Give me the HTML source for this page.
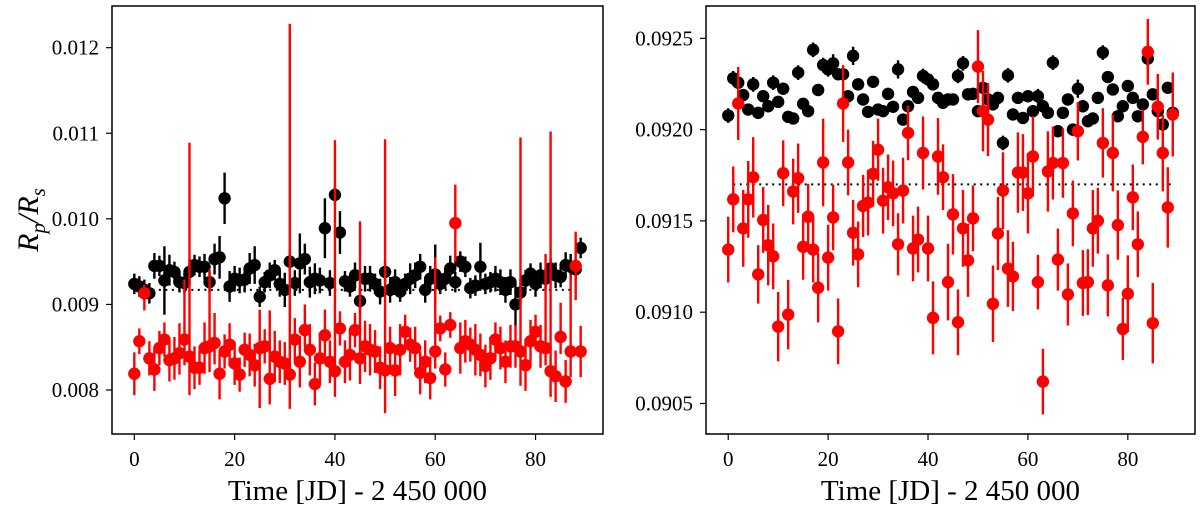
<!DOCTYPE html>
<html><head><meta charset="utf-8"><style>
html,body{margin:0;padding:0;background:#fff;}
svg{display:block;font-family:"Liberation Serif","DejaVu Serif",serif;}
</style></head><body>
<svg id="chart" width="1200" height="513" viewBox="0 0 1200 513"></svg>
<script>
const days = Array.from({length:90},(_,i)=>i);
const leftBlack = [.00924,.00921,.00917,.00913,.00945,.00945,.00928,.00940,.00938,.00926,.00925,.00938,.00946,.00944,.00944,.00926,.00953,.00955,.01024,.00921,.00930,.00928,.00929,.00942,.00946,.00909,.00926,.00934,.00940,.00924,.00917,.00950,.00925,.00948,.00953,.00926,.00930,.00928,.00989,.00925,.01028,.00984,.00927,.00921,.00934,.00904,.00930,.00930,.00924,.00915,.00938,.00917,.00926,.00915,.00924,.00930,.00934,.00944,.00917,.00930,.00935,.00924,.00930,.00942,.00926,.00950,.00944,.00919,.00922,.00944,.00924,.00926,.00930,.00926,.00917,.00926,.00900,.00914,.00928,.00936,.00924,.00934,.00930,.00942,.00934,.00932,.00946,.00944,.00941,.00966];
const leftBlackErr = [.00012,.00012,.00012,.00012,.00015,.00012,.0004,.00018,.00012,.00012,.00012,.00015,.00012,.00012,.00015,.00012,.00018,.00025,.0003,.00018,.00015,.00015,.00015,.00018,.00022,.00012,.00012,.00015,.00012,.00015,.0002,.00012,.00015,.00035,.00018,.00018,.00018,.00015,.00035,.00015,.0001,.00025,.00012,.00012,.00015,.00015,.00015,.00015,.00012,.00015,.00012,.00015,.00015,.00012,.00012,.00018,.00015,.00015,.00015,.00015,.00035,.00012,.00012,.00015,.00012,.00012,.00012,.00012,.00012,.00028,.00012,.00012,.00015,.00015,.00015,.00015,.00025,.00012,.00012,.00012,.00015,.00015,.00012,.00012,.00015,.00012,.00015,.00015,.00012,.00012];
const leftRed = [.00819,.00857,.00913,.00837,.00824,.00849,.00859,.00835,.00837,.00843,.00859,.00839,.00826,.00826,.00849,.00851,.00855,.00819,.00845,.00853,.00831,.00818,.00847,.00841,.00829,.00849,.00851,.00813,.00839,.00833,.00831,.00818,.00859,.00833,.00870,.00847,.00807,.00837,.00864,.00833,.00822,.00872,.00833,.00841,.00870,.00837,.00851,.00847,.00845,.00826,.00823,.00849,.00823,.00847,.00868,.00853,.00849,.00820,.00833,.00814,.00845,.00872,.00824,.00876,.00995,.00849,.00857,.00853,.00847,.00841,.00828,.00837,.00859,.00849,.00833,.00851,.00851,.00845,.00829,.00857,.00868,.00851,.00849,.00822,.00816,.00862,.00810,.00845,.00945,.00845];
const leftRedErrHi = [.00025,.00015,.0001,.0002,.00025,.0002,.0002,.00025,.00025,.00035,.0007,.0025,.00025,.0002,.0003,.0009,.00035,.00025,.0002,.00025,.00025,.0002,.0002,.00025,.00025,.00045,.0002,.0008,.0003,.00025,.00025,.0041,.00025,.0003,.0003,.0003,.00025,.0003,.0003,.00025,.0027,.0002,.00025,.0003,.0002,.0016,.0003,.0003,.00025,.00025,.0027,.00025,.0003,.0003,.0002,.0002,.00025,.00025,.00025,.00025,.0011,.00015,.0002,.00015,.00045,.0003,.00025,.0002,.0003,.00025,.00025,.00025,.0002,.00025,.00025,.00025,.00025,.0025,.0003,.00025,.0002,.00025,.0011,.0028,.0003,.0004,.00025,.0009,.0004,.0003];
const leftRedErrLo = [.00025,.00015,.0002,.0002,.00025,.0002,.0002,.00025,.00025,.00025,.0003,.00045,.00025,.0002,.0003,.0003,.00025,.0003,.0002,.00025,.00025,.0002,.0002,.00025,.00025,.0007,.0002,.0003,.0003,.00025,.00025,.0004,.00025,.0003,.0002,.0003,.00025,.0003,.0003,.00025,.0003,.0002,.00025,.0003,.0002,.0003,.0003,.0003,.00025,.00025,.0005,.00025,.0003,.0003,.0002,.0002,.00025,.00025,.00025,.00025,.0002,.00015,.0002,.00015,.00045,.0003,.00025,.0002,.0003,.00025,.00025,.00025,.0002,.00025,.00025,.00025,.00025,.0004,.0003,.00025,.0002,.00025,.0002,.0003,.0003,.0002,.00025,.0003,.0004,.0003];
const leftRef = 0.00917;

const rightBlack = [.092077,.092281,.092257,.092189,.09211,.092248,.092092,.092183,.092128,.092257,.092152,.092224,.09207,.092061,.092312,.092141,.092101,.092437,.092217,.092354,.09233,.092363,.092303,.092303,.092183,.092404,.092248,.092165,.092097,.092262,.09211,.092101,.092196,.092125,.09233,.092055,.092128,.092206,.092174,.092294,.092275,.092248,.092174,.092147,.092165,.092165,.092294,.092363,.092193,.092196,.092101,.092229,.092165,.092138,.092174,.091927,.092297,.092083,.092174,.092064,.092183,.092101,.092183,.092128,.092092,.092367,.091991,.092092,.092165,.0920,.092224,.092128,.092046,.092061,.092174,.092422,.092288,.09222,.092073,.092128,.092239,.092174,.092073,.092138,.092389,.092193,.092101,.092028,.092229,.092092];
const rightBlackErr = [.00004,.00004,.00003,.00003,.00003,.00004,.00003,.00003,.00003,.00004,.00003,.00003,.00003,.00003,.00004,.00003,.00003,.00004,.00003,.00004,.00004,.00005,.00003,.00003,.00003,.00005,.00003,.00003,.00003,.00003,.00003,.00003,.00003,.00003,.00005,.00003,.00003,.00003,.00003,.00004,.00003,.00003,.00003,.00003,.00003,.00003,.00004,.00004,.00003,.00003,.00003,.00003,.00003,.00003,.00003,.00004,.00004,.00003,.00003,.00003,.00003,.00003,.00004,.00003,.00003,.00004,.00003,.00003,.00003,.00003,.00005,.00003,.00003,.00003,.00003,.00004,.00003,.00003,.00003,.00003,.00003,.00003,.00003,.00003,.00005,.00003,.00003,.00003,.00003,.00003];
const rightRed = [.091343,.091618,.092143,.091459,.091618,.091739,.091207,.091505,.091367,.091306,.090921,.091761,.090987,.091661,.091734,.091358,.091523,.091343,.091134,.09182,.091299,.091519,.090895,.092143,.09182,.091435,.091317,.091582,.0916,.091758,.09189,.091611,.091684,.091651,.091372,.091666,.091982,.091349,.091398,.091872,.091349,.090969,.091853,.091739,.091165,.091536,.090945,.091459,.091284,.091514,.092345,.092101,.092055,.091046,.091431,.091666,.091239,.091196,.091765,.091765,.091651,.091853,.091165,.09062,.091771,.091817,.091288,.091817,.091097,.091541,.091991,.09116,.091165,.091459,.091501,.091927,.091147,.091872,.091477,.090908,.091101,.091629,.091372,.09196,.092426,.09094,.092125,.091872,.091574,.092083];
const rightRedErr = [.00018,.00018,.0002,.00021,.00021,.00022,.00016,.00018,.00022,.00018,.00019,.00018,.00019,.00018,.00019,.00018,.00018,.00018,.00019,.00024,.00018,.00018,.00018,.00021,.00018,.00018,.00018,.00017,.00018,.00018,.00017,.00018,.00018,.00018,.00017,.00018,.00015,.00018,.00018,.0002,.00018,.0002,.00021,.00018,.00021,.00022,.00018,.00021,.0002,.00018,.0002,.00022,.0002,.00021,.0002,.00021,.00021,.00019,.00022,.00021,.00022,.00022,.00015,.00018,.00022,.0002,.00017,.00019,.00017,.00018,.00016,.00018,.00018,.00021,.00018,.00019,.00017,.00021,.00019,.00017,.00021,.00018,.00018,.00015,.00018,.00022,.00018,.00021,.00022,.00023];
const rightRef = 0.09170;

const leftYTicks = [0.008,0.009,0.010,0.011,0.012];
const leftYLabels = ["0.008","0.009","0.010","0.011","0.012"];
const rightYTicks = [0.0905,0.0910,0.0915,0.0920,0.0925];
const rightYLabels = ["0.0905","0.0910","0.0915","0.0920","0.0925"];
const xTicks = [0,20,40,60,80];

const NS = "http://www.w3.org/2000/svg";
const svg = document.getElementById('chart');
function mk(tag, attrs, parent){const e=document.createElementNS(NS,tag);for(const k in attrs)e.setAttribute(k,attrs[k]);(parent||svg).appendChild(e);return e;}
function scale(d0,d1,r0,r1){return v=>r0+(v-d0)/(d1-d0)*(r1-r0);}

function panel(opts){
  const {x0,x1,yd0,yd1,name,black,blackErrHi,blackErrLo,red,redErrHi,redErrLo,ref,yTicks,yLabels,refFrom,refTo} = opts;
  const top=6,bot=434;
  const X=scale(-4.45,93.45,x0,x1), Y=scale(yd0,yd1,bot,top);
  const g=mk('g',{});
  
  
  const rl=mk('line',{x1:X(refFrom),x2:X(refTo),y1:Y(ref),y2:Y(ref),stroke:'#000','stroke-width':2,'stroke-dasharray':'2,4.5'},g);
  
  
  function series(vals,hi,lo,color,sname){
    const sg=mk('g',{},g);
    
    
    vals.forEach((v,i)=>{
      const cx=X(days[i]);
      const eb=mk('line',{x1:cx,x2:cx,y1:Y(v+hi[i]),y2:Y(v-lo[i]),stroke:color,'stroke-width':2.4},sg);
      
      
    });
    vals.forEach((v,i)=>{
      const c=mk('circle',{cx:X(days[i]),cy:Y(v),r:6.2,fill:color},sg);
      
      
    });
  }
  series(black,blackErrHi,blackErrLo,'#000','black');
  series(red,redErrHi,redErrLo,'#ff0000','red');
  const fr=mk('rect',{x:x0,y:top,width:x1-x0,height:bot-top,fill:'none',stroke:'#000','stroke-width':1.5},g);
  
  
  xTicks.forEach(t=>{
    const tx=X(t);
    mk('line',{x1:tx,x2:tx,y1:bot,y2:bot+6,stroke:'#000','stroke-width':1.2},g);
    const lb=mk('text',{x:tx,y:466,'text-anchor':'middle','font-size':21},g);
    lb.textContent=t;
    
    
  });
  yTicks.forEach((t,i)=>{
    const ty=Y(t);
    mk('line',{x1:x0-6,x2:x0,y1:ty,y2:ty,stroke:'#000','stroke-width':1.2},g);
    const lb=mk('text',{x:x0-13,y:ty+7,'text-anchor':'end','font-size':21},g);
    lb.textContent=yLabels[i];
    
    
  });
  const xt=mk('text',{x:(x0+x1)/2,y:500,'text-anchor':'middle','font-size':29},g);
  xt.textContent='Time [JD] - 2 450 000';
  
  
}

panel({x0:112,x1:603,yd0:0.007486,yd1:0.012487,name:'left',black:leftBlack,blackErrHi:leftBlackErr,blackErrLo:leftBlackErr,red:leftRed,redErrHi:leftRedErrHi,redErrLo:leftRedErrLo,ref:leftRef,yTicks:leftYTicks,yLabels:leftYLabels,refFrom:1,refTo:89});
panel({x0:706,x1:1195,yd0:0.090333,yd1:0.092677,name:'right',black:rightBlack,blackErrHi:rightBlackErr,blackErrLo:rightBlackErr,red:rightRed,redErrHi:rightRedErr,redErrLo:rightRedErr,ref:rightRef,yTicks:rightYTicks,yLabels:rightYLabels,refFrom:1,refTo:89});

const yt=mk('text',{x:0,y:0,'text-anchor':'middle','font-size':30,'font-style':'italic',transform:'translate(38,220) rotate(-90)'});


yt.innerHTML='R<tspan font-size="21" dy="7">p</tspan><tspan dy="-7">/R</tspan><tspan font-size="21" dy="7">s</tspan>';
</script>
</body></html>
